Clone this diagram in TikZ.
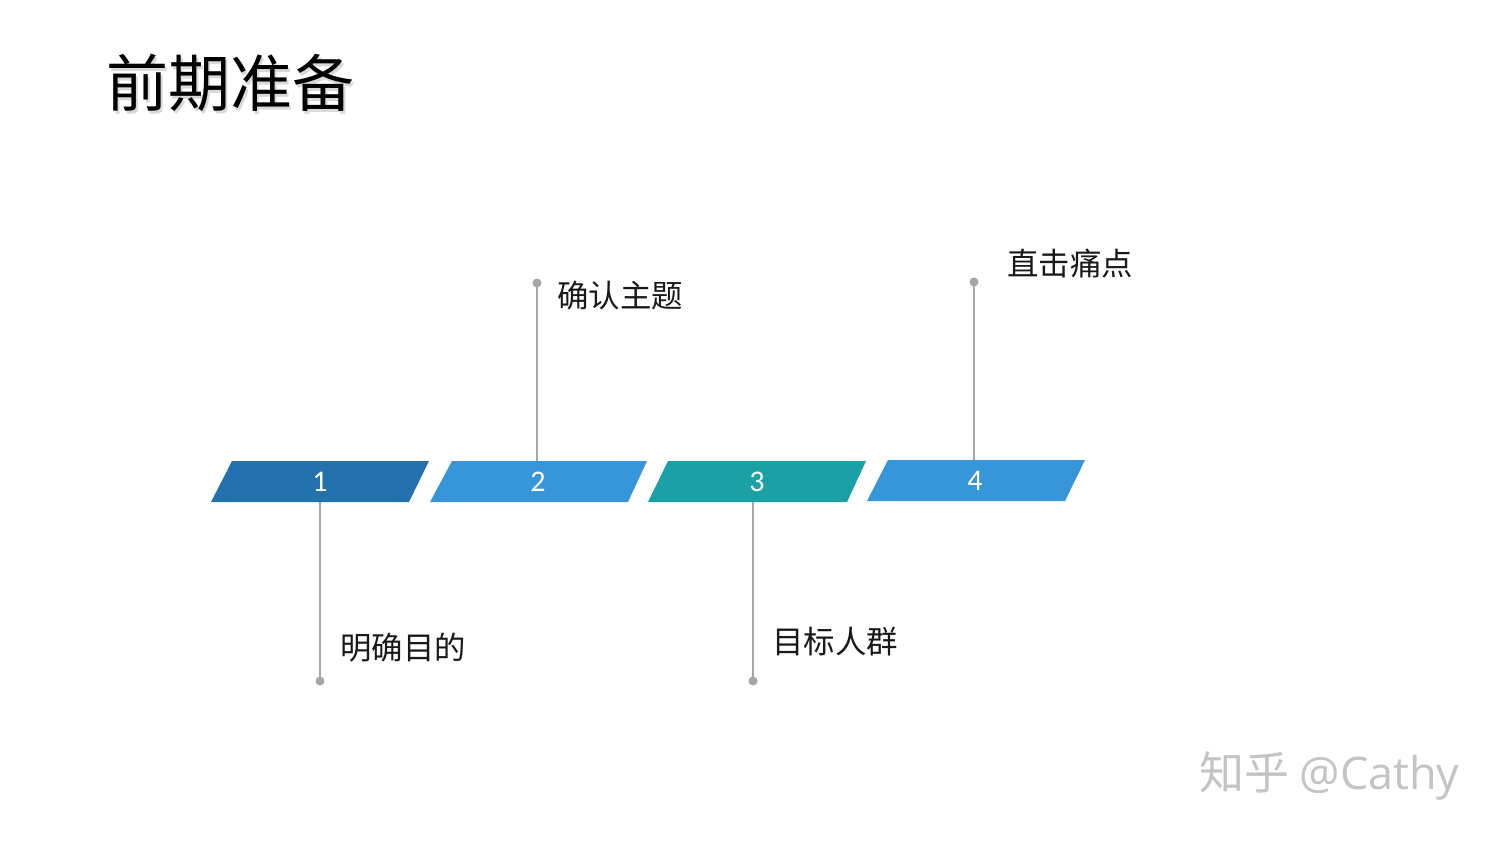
\documentclass[tikz,border=0pt]{standalone}
\usepackage{fontspec}
\setmainfont{Carlito}
\newfontfamily\cjk{Noto Sans CJK SC}
\newfontfamily\wmfont{Open Sans}
\definecolor{dblue}{HTML}{2372AD}
\definecolor{lblue}{HTML}{3795D9}
\definecolor{teal1}{HTML}{1BA1A5}
\definecolor{lgray}{HTML}{A6A6A6}
\definecolor{wm}{HTML}{C4C4C4}
\begin{document}
\begin{tikzpicture}[x=0.5pt,y=-0.5pt,
  num/.style={text=white,font=\fontsize{15}{15}\selectfont,minimum height=20.5pt,inner sep=0pt},
  lab/.style={anchor=west,inner sep=0pt,font=\cjk\fontsize{15.7}{15.7}\selectfont,text=black!90},
  conn/.style={draw=lgray,line width=0.8pt},
  dotc/.style={fill=lgray}]
\useasboundingbox (0,0) rectangle (1500,843);
\fill[white] (0,0) rectangle (1500,843);
% title with soft shadow
\node[anchor=west,inner sep=0pt,font=\cjk\fontsize{31}{31}\selectfont,text=black!15] at (108.5,85.5) {前期准备};
\node (title) [anchor=west,inner sep=0pt,font=\cjk\fontsize{31}{31}\selectfont] at (106,83) {前期准备};
% parallelograms
\fill[dblue] (232,461) -- (429,461) -- (409,502) -- (211,502) -- cycle;
\fill[lblue] (452,461) -- (647,461) -- (628,502) -- (430,502) -- cycle;
\fill[teal1] (668,461) -- (866,461) -- (847,502) -- (648,502) -- cycle;
\fill[lblue] (888,460) -- (1085,460) -- (1065,501) -- (867,501) -- cycle;
\node (p1) [num] at (320,481.5) {1};
\node (p2) [num] at (538,481.5) {2};
\node (p3) [num] at (757,481.5) {3};
\node (p4) [num] at (975,480.5) {4};
% dots
\coordinate (d1) at (320,681);
\coordinate (d2) at (537,283);
\coordinate (d3) at (753,681);
\coordinate (d4) at (974,282);
\draw[conn] (d1) -- (d1 |- p1.south);
\draw[conn] (d2) -- (d2 |- p2.north);
\draw[conn] (d3) -- (d3 |- p3.south);
\draw[conn] (d4) -- (d4 |- p4.north);
\foreach \d in {d1,d2,d3,d4} \fill[dotc] (\d) circle (4.5);
% labels
\node (l1) [lab] at (340,648) {明确目的};
\node (l2) [lab] at (557,296) {确认主题};
\node (l3) [lab] at (772,642) {目标人群};
\node (l4) [lab] at (1007,263) {直击痛点};
% watermark
\node (wmk) [anchor=west,inner sep=0pt,text=wm,font=\fontsize{22.5}{22.5}\selectfont] at (1199,776) {{\cjk 知乎} {\wmfont @Cathy}};
\end{tikzpicture}
\end{document}
